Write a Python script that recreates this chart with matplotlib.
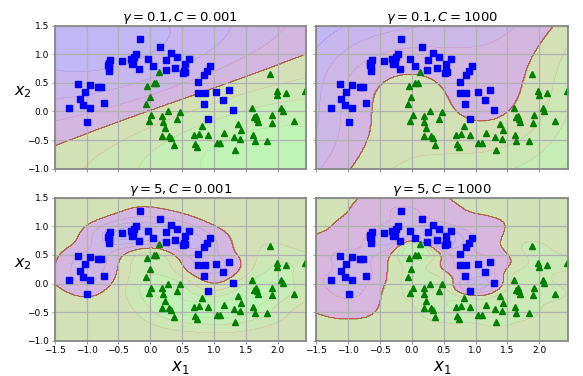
import numpy as np
import matplotlib
matplotlib.use("Agg")
import matplotlib.pyplot as plt

# ---- data (class 0: blue squares, class 1: green triangles)
blue_x = [-0.164, 0.159, 0.333, 0.423, 0.608, 0.540, 0.254, -0.032, 0.042, -0.217,
          -0.254, -0.307, -0.291, -0.270, -0.444, -0.180, -0.624, -0.651, -0.640, -0.640,
          -0.660, 0.243, 0.392, 0.513, 0.529, 0.550, 0.942, 0.894, 0.847, 0.757,
          0.751, 0.852, 1.032, 1.233, 1.148, 0.836, 1.296, 0.905, -1.127, -0.942,
          -0.820, -0.772, -1.032, -1.106, -0.725, -1.058, -0.947, -1.270, -0.989, -0.280]
blue_y = [1.269, 1.123, 1.023, 0.953, 0.924, 0.836, 0.895, 0.918, 0.795, 1.006,
          0.947, 0.918, 0.836, 0.870, 0.877, 0.737, 0.906, 0.848, 0.772, 0.713,
          0.820, 0.725, 0.754, 0.673, 0.713, 0.690, 0.795, 0.713, 0.643, 0.515,
          0.322, 0.327, 0.339, 0.368, 0.205, 0.135, 0.018, -0.135, 0.480, 0.456,
          0.433, 0.433, 0.345, 0.222, 0.140, 0.111, 0.064, 0.058, -0.187, 0.880]
green_x = [0.132, 0.053, 0.095, -0.053, -0.011, -0.063, 0.016, -0.026, 0.190, 0.196,
           0.228, 0.286, 0.418, 0.471, 0.185, 0.302, 0.323, 0.365, 0.820, 0.693,
           0.772, 0.905, 0.704, 0.735, 1.042, 1.095, 1.164, 1.307, 1.323, 1.376,
           1.423, 1.413, 1.598, 1.614, 1.640, 1.836, 1.915, 1.905, 1.878, 1.984,
           1.989, 2.127, 2.434, 2.058, 2.079, 2.249, 1.630, 1.661, 1.677, 1.693]
green_y = [0.690, 0.497, 0.497, 0.444, 0.251, 0.123, -0.070, -0.170, -0.082, -0.181,
           -0.298, 0.000, -0.129, -0.006, -0.433, -0.421, -0.468, -0.591, -0.257, -0.409,
           -0.392, -0.404, -0.561, -0.626, -0.556, -0.556, -0.374, -0.444, -0.667, -0.222,
           -0.333, -0.474, 0.064, -0.415, -0.509, -0.509, -0.070, -0.199, 0.649, 0.357,
           0.281, 0.316, 0.357, 0.064, 0.006, -0.175, -0.105, -0.082, -0.135, -0.181]

gammas = [0.1, 0.1, 5, 5]
Cs = [0.001, 1000, 0.001, 1000]
gamma_labels = ["0.1", "0.1", "5", "5"]
C_labels = ["0.001", "1000", "0.001", "1000"]
x_ticks = [-1.5, -1.0, -0.5, 0.0, 0.5, 1.0, 1.5, 2.0]
y_ticks = [-1.0, -0.5, 0.0, 0.5, 1.0, 1.5]
axes_range = [-1.5, 2.45, -1.0, 1.5]


def rbf(A, B, g):
    d = ((A[:, None, :] - B[None, :, :]) ** 2).sum(-1)
    return np.exp(-g * d)


def fit_svc(X, y, gamma, C, tol=1e-3, max_iter=300000):
    """Small SMO solver with libsvm-style second-order working-set selection."""
    n = len(y)
    K = rbf(X, X, gamma)
    Q = np.outer(y, y) * K
    dK = np.diag(K)
    a = np.zeros(n)
    G = -np.ones(n)
    for _ in range(max_iter):
        v = -y * G
        up = ((y > 0) & (a < C)) | ((y < 0) & (a > 0))
        low = ((y > 0) & (a > 0)) | ((y < 0) & (a < C))
        iu = np.flatnonzero(up)
        il = np.flatnonzero(low)
        i = iu[np.argmax(v[iu])]
        if v[i] - v[il].min() < tol:
            break
        cand = il[v[il] < v[i]]
        bij = v[i] - v[cand]
        aij = np.maximum(dK[i] + dK[cand] - 2 * K[i, cand], 1e-12)
        j = cand[np.argmin(-(bij ** 2) / aij)]
        gap = v[i] - v[j]
        eta = max(K[i, i] + K[j, j] - 2 * K[i, j], 1e-12)
        t = gap / eta
        t = min(t, (C - a[i]) if y[i] > 0 else a[i])
        t = min(t, a[j] if y[j] > 0 else (C - a[j]))
        a[i] += y[i] * t
        a[j] -= y[j] * t
        G += Q[:, i] * (y[i] * t) - Q[:, j] * (y[j] * t)
    v = -y * G
    free = (a > 1e-8 * C) & (a < C * (1 - 1e-8))
    if free.any():
        b = v[free].mean()
    else:
        up = ((y > 0) & (a < C)) | ((y < 0) & (a > 0))
        low = ((y > 0) & (a > 0)) | ((y < 0) & (a < C))
        b = 0.5 * (v[up].max() + v[low].min())
    return a, b


X = np.r_[np.c_[blue_x, blue_y], np.c_[green_x, green_y]]
lab = np.r_[np.zeros(len(blue_x)), np.ones(len(green_x))]
ys = np.where(lab > 0, 1.0, -1.0)
mu = X.mean(0)
sd = X.std(0)
Xs = (X - mu) / sd

x0s = np.linspace(axes_range[0], axes_range[1], 260)
x1s = np.linspace(axes_range[2], axes_range[3], 260)
x0, x1 = np.meshgrid(x0s, x1s)
grid = np.c_[x0.ravel(), x1.ravel()]
grid_s = (grid - mu) / sd

fig, axs = plt.subplots(2, 2, figsize=(5.83, 3.76), dpi=100, sharex=True, sharey=True)
fig.subplots_adjust(left=0.0938, right=0.9743, top=0.9316, bottom=0.0939,
                    wspace=10 / 251.5, hspace=29.3 / 143.5)

for k, ax in enumerate(axs.ravel()):
    a, b = fit_svc(Xs, ys, gammas[k], Cs[k])
    dec = (a * ys) @ rbf(Xs, grid_s, gammas[k]) + b
    y_dec = dec.reshape(x0.shape)
    y_pred = (y_dec > 0).astype(float)
    ax.contourf(x0, x1, y_pred, cmap=plt.cm.brg, alpha=0.2, antialiased=False)
    ax.contourf(x0, x1, y_dec, cmap=plt.cm.brg, alpha=0.1, antialiased=False)
    ax.plot(blue_x, blue_y, "bs", ms=3.7)
    ax.plot(green_x, green_y, "g^", ms=3.9)
    ax.axis(axes_range)
    ax.grid(True, color="#b0b0b0", lw=0.9)
    ax.set_xticks(x_ticks)
    ax.set_yticks(y_ticks)
    ax.tick_params(labelsize=6.5, length=2.5, width=0.6, pad=1.5, color="#888888")
    for s in ax.spines.values():
        s.set_color("#888888")
        s.set_linewidth(1.3)
    ax.set_title(r"$\gamma = {}, C = {}$".format(gamma_labels[k], C_labels[k]),
                 fontsize=9.5, pad=2.5)
    if k % 2 == 0:
        ax.set_ylabel(r"$x_2$", fontsize=11.5, rotation=0, va="center", ha="center")
        ax.yaxis.set_label_coords(-0.125, 0.535)
    if k >= 2:
        ax.set_xlabel(r"$x_1$", fontsize=12, labelpad=2)

fig.savefig("out.png", dpi=100)
